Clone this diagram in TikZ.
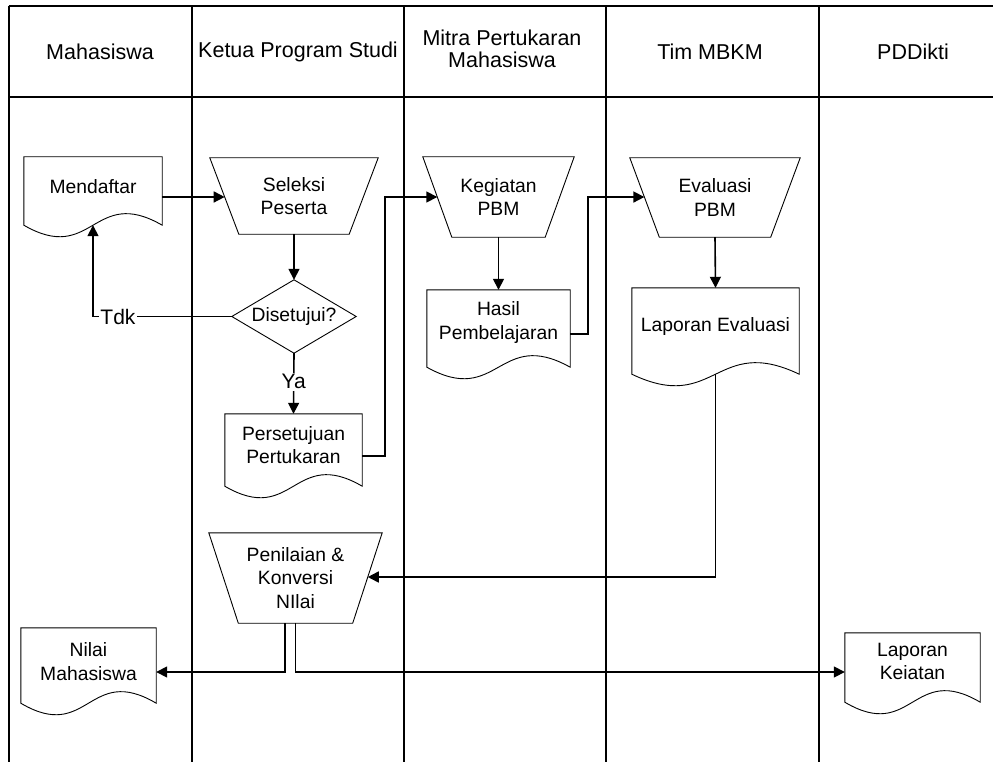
\documentclass[tikz,border=0pt]{standalone}
\usepackage{fontspec}
\setmainfont{Liberation Sans}
\usetikzlibrary{arrows.meta,calc}
\begin{document}
\begin{tikzpicture}[x=1pt,y=-1pt,
  lane/.style={line width=2pt, black},
  hdr/.style={font=\fontsize{21.5}{22}\selectfont, align=center, inner sep=0pt},
  box/.style={draw=none, inner sep=0pt, align=center, font=\fontsize{19.3}{23.5}\selectfont},
  outl/.style={line width=0.9pt, black},
  conn/.style={line width=1.6pt, -{Triangle[length=11pt,width=11pt]}},
  lbl/.style={fill=white, inner sep=1.5pt, font=\fontsize{21}{23}\selectfont}
]
\useasboundingbox (0,0) rectangle (993,762);

% swimlane frame
\draw[lane] (8.7,6) -- (993,6);
\draw[lane] (8.7,97) -- (993,97);
\foreach \xx in {8.7,192,404,606,819}{
  \draw[lane] (\xx,6) -- (\xx,762);
}

% headers
\node[hdr] (h1) at (100,52) {Mahasiswa};
\node[hdr] (h2) at (298,52) {Ketua Program Studi};
\node[hdr] (h3) at (502,49) {Mitra Pertukaran\\Mahasiswa};
\node[hdr] (h4) at (710,52) {Tim MBKM};
\node[hdr] (h5) at (913,52) {PDDikti};

% document nodes
\node[box, minimum width=138pt, minimum height=60pt] (mend) at (93,187) {Mendaftar};
\node[box, minimum width=137pt, minimum height=62pt] (pers) at (293.5,445) {Persetujuan\\Pertukaran};
\node[box, minimum width=143pt, minimum height=65pt] (hasil) at (498.5,322.5) {Hasil\\Pembelajaran};
\node[box, minimum width=167pt, minimum height=78pt] (lapev) at (715.5,327) {Laporan Evaluasi};
\node[box, minimum width=135pt, minimum height=67pt] (nilai) at (88.5,661.5) {Nilai\\Mahasiswa};
\node[box, minimum width=135pt, minimum height=57pt] (lapkei) at (912.5,661.5) {Laporan\\Keiatan};

\foreach \n/\e in {mend/8pt, pers/10pt, hasil/12pt, lapev/8pt, nilai/8pt, lapkei/12pt}{
  \draw[outl] (\n.north west) -- (\n.north east) -- ([yshift=-\e]\n.south east)
    .. controls ([yshift=-\e+40pt]\n.south) and ([yshift=-\e-40pt]\n.south) ..
    ([yshift=-\e]\n.south west) -- cycle;
}

% manual operation (trapezoid) nodes
\node[box, minimum width=168pt, minimum height=76pt] (sel) at (294,196) {Seleksi\\Peserta};
\node[box, minimum width=151pt, minimum height=80pt] (keg) at (498.5,197) {Kegiatan\\PBM};
\node[box, minimum width=170pt, minimum height=79pt] (ev) at (715,197.5) {Evaluasi\\PBM};
\node[box, minimum width=173pt, minimum height=90pt] (pen) at (295.5,578) {Penilaian \&\\Konversi\\NIlai};

\foreach \n/\x in {sel/29pt, keg/29pt, ev/29.5pt, pen/29.5pt}{
  \draw[outl] (\n.north west) -- (\n.north east) -- ([xshift=-\x]\n.south east)
    -- ([xshift=\x]\n.south west) -- cycle;
}

% decision
\node[box, minimum width=124pt, minimum height=73pt] (dia) at (294,316.5) {Disetujui?};
\draw[outl] (dia.north) -- (dia.east) -- (dia.south) -- (dia.west) -- cycle;

% helper coordinates on slanted edges and wave bottoms
\coordinate (selBL) at ([xshift=29pt]sel.south west);
\coordinate (selin) at ($(sel.north west)!0.513!(selBL)$);
\coordinate (kegBL) at ([xshift=29pt]keg.south west);
\coordinate (kegin) at ($(keg.north west)!0.5!(kegBL)$);
\coordinate (evBL) at ([xshift=29.5pt]ev.south west);
\coordinate (evin) at ($(ev.north west)!0.494!(evBL)$);
\coordinate (penBR) at ([xshift=-29.5pt]pen.south east);
\coordinate (penin) at ($(pen.north east)!0.489!(penBR)$);
\coordinate (mendw) at ([yshift=-8pt]mend.south);
\coordinate (lapevw) at ([yshift=-8pt]lapev.south);

% connectors
\draw[conn] (mend.east |- selin) -- (selin);
\draw[conn] (sel.south) -- (dia.north);
\draw[conn] (dia.west) -- node[lbl, pos=0.82] {Tdk} (dia.west -| mendw) -- (mendw);
\draw[conn] (dia.south) -- node[lbl, pos=0.47] {Ya} (pers.north);
\draw[conn] ([yshift=-11pt]pers.east) -- ++(23,0) |- (kegin);
\draw[conn] (keg.south) -- (hasil.north);
\draw[conn] ([yshift=-11.5pt]hasil.east) -- ++(18,0) |- (evin);
\draw[conn] (ev.south) -- (lapev.north);
\draw[conn] (lapevw) |- (penin);
\draw[conn] ([xshift=-10.5pt]pen.south) |- ([yshift=-10.5pt]nilai.east);
\draw[conn] (pen.south) |- ([yshift=-10.5pt]lapkei.west);
\end{tikzpicture}
\end{document}
